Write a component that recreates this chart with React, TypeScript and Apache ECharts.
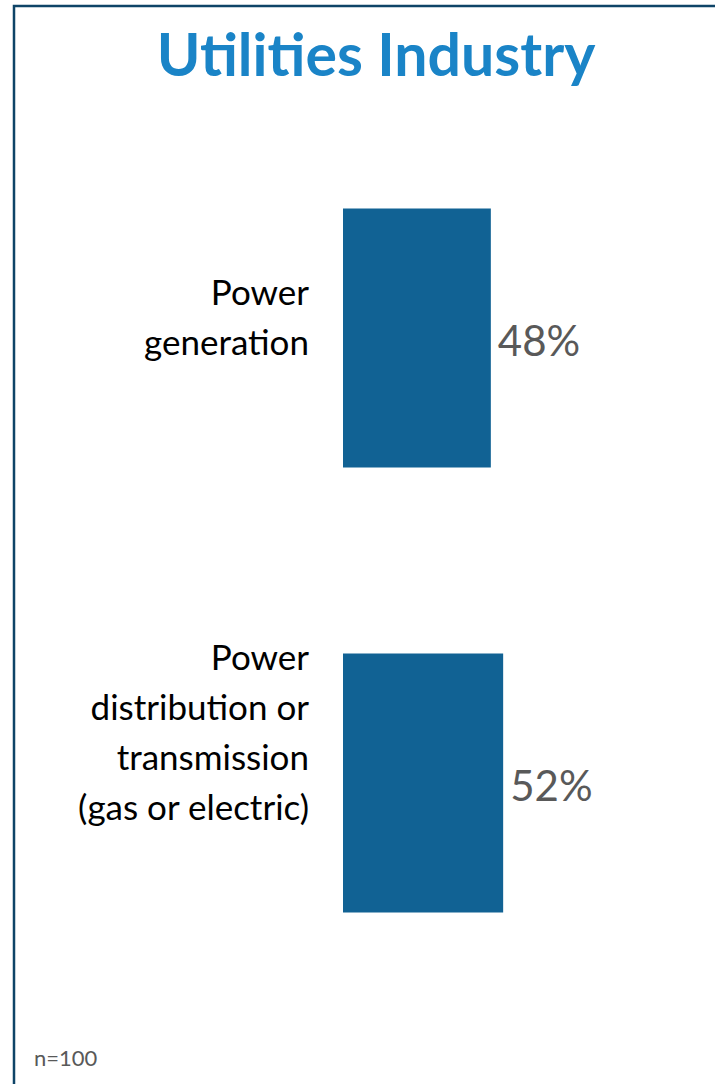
import React, { useEffect, useRef } from "react";
import * as echarts from "echarts";

// Survey answers for the utilities segment
const categories = [
  "Power\ngeneration",
  "Power\ndistribution or\ntransmission\n(gas or electric)",
];
const shares = [48, 52];
const valueTicks = [0, 100];
const titleText = "Utilities Industry";
const sampleNote = "n=100";

const BAR_COLOR = "#116294";
const TITLE_COLOR = "#1A84C7";
const FRAME_COLOR = "#0E4467";
const LABEL_GREY = "#595959";

export default function App() {
  const ref = useRef<HTMLDivElement>(null);

  useEffect(() => {
    if (!ref.current) return;
    const chart = echarts.init(ref.current, null, { renderer: "svg" });

    // an empty trailing line of this height lifts each category label block
    const gaps = [44, 104];

    chart.setOption({
      animation: false,
      backgroundColor: "#ffffff",
      title: [
        {
          text: titleText,
          left: 376,
          top: 24,
          padding: 0,
          textAlign: "center",
          textStyle: {
            fontFamily: "Lato",
            fontWeight: "bold",
            fontSize: 59,
            color: TITLE_COLOR,
          },
        },
        {
          text: sampleNote,
          left: 34,
          top: 1046,
          padding: 0,
          textStyle: {
            fontFamily: "Lato",
            fontWeight: "normal",
            fontSize: 22,
            color: LABEL_GREY,
          },
        },
      ],
      graphic: [
        {
          type: "rect",
          silent: true,
          z: -10,
          shape: { x: 14, y: 6, width: 780, height: 1160 },
          style: { fill: "none", stroke: FRAME_COLOR, lineWidth: 2.5 },
        },
      ],
      grid: {
        left: 343,
        right: 64,
        top: 115.5,
        bottom: 78.5,
        containLabel: false,
        outerBoundsMode: "none",
      },
      xAxis: {
        type: "value",
        min: valueTicks[0],
        max: valueTicks[1],
        show: false,
        splitLine: { show: false },
      },
      yAxis: {
        type: "category",
        inverse: true,
        data: categories,
        axisLine: { show: false },
        axisTick: { show: false },
        splitLine: { show: false },
        axisLabel: {
          interval: 0,
          margin: 34,
          align: "right",
          fontFamily: "Lato",
          fontSize: 35,
          lineHeight: 50,
          color: "#000000",
          formatter: (value: string, index: number) =>
            `${value}\n{g${index}| }`,
          rich: {
            g0: { fontSize: 10, lineHeight: gaps[0], height: gaps[0] },
            g1: { fontSize: 10, lineHeight: gaps[1], height: gaps[1] },
          },
        },
      },
      series: [
        {
          type: "bar",
          data: shares,
          barWidth: 259,
          itemStyle: { color: BAR_COLOR },
          label: {
            show: true,
            position: "right",
            distance: 7,
            offset: [0, 2],
            formatter: "{c}%",
            fontFamily: "Lato",
            fontSize: 42,
            color: LABEL_GREY,
          },
        },
      ],
    });

    return () => chart.dispose();
  }, []);

  return (
    <div
      ref={ref}
      style={{
        position: "absolute",
        left: 0,
        top: 0,
        width: 715,
        height: 1084,
      }}
    />
  );
}
